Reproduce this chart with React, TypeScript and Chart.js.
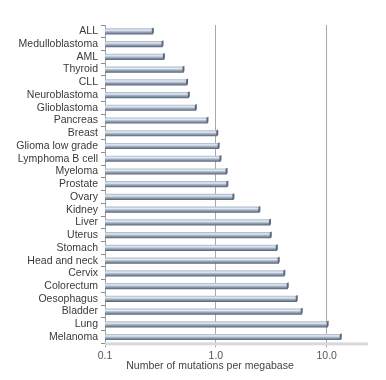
import { useEffect, useRef } from "react";
import { Chart, registerables } from "chart.js";
Chart.register(...registerables);

const categories = [
  "ALL", "Medulloblastoma", "AML", "Thyroid", "CLL", "Neuroblastoma", "Glioblastoma",
  "Pancreas", "Breast", "Glioma low grade", "Lymphoma B cell", "Myeloma", "Prostate",
  "Ovary", "Kidney", "Liver", "Uterus", "Stomach", "Head and neck", "Cervix",
  "Colorectum", "Oesophagus", "Bladder", "Lung", "Melanoma",
];
const mutationRates = [
  0.27, 0.33, 0.34, 0.51, 0.55, 0.57, 0.66, 0.84, 1.03, 1.06, 1.1, 1.25, 1.27,
  1.44, 2.47, 3.08, 3.13, 3.55, 3.69, 4.15, 4.45, 5.37, 5.95, 10.2, 13.4,
];
const xTickValues = [0.1, 1, 10];
const xTickLabels = ["0.1", "1.0", "10.0"];
const xAxisTitle = "Number of mutations per megabase";

const FONT = "'Liberation Sans', Arial, sans-serif";
const BAR_H = 5.5;

const barDecor = {
  id: "barDecor",
  beforeDatasetsDraw(chart: any) {
    const { ctx, chartArea } = chart;
    ctx.save();
    ctx.fillStyle = "#d9d9d9";
    ctx.fillRect(chartArea.left, chartArea.bottom - 1, chartArea.right - chartArea.left, 3);
    ctx.restore();
  },
  afterDatasetsDraw(chart: any) {
    const { ctx } = chart;
    const meta = chart.getDatasetMeta(0);
    ctx.save();
    meta.data.forEach((el: any) => {
      const x = el.x;
      const y = el.y;
      ctx.fillStyle = "#5d687a";
      ctx.beginPath();
      ctx.moveTo(x - 1, y - BAR_H / 2);
      ctx.lineTo(x + 1, y - BAR_H / 2 - 1);
      ctx.lineTo(x + 1, y + BAR_H / 2 - 1);
      ctx.lineTo(x - 1, y + BAR_H / 2);
      ctx.closePath();
      ctx.fill();
    });
    ctx.restore();
  },
  afterDraw(chart: any) {
    const { ctx } = chart;
    ctx.save();
    ctx.fillStyle = "#444";
    ctx.font = `10.5px ${FONT}`;
    ctx.textAlign = "center";
    ctx.textBaseline = "middle";
    ctx.fillText(xAxisTitle, 210, 366.5);
    ctx.restore();
  },
};

export default function App() {
  const ref = useRef<HTMLCanvasElement | null>(null);
  useEffect(() => {
    if (!ref.current) return;
    const chart = new Chart(ref.current, {
      type: "bar",
      data: {
        labels: categories,
        datasets: [
          {
            data: mutationRates,
            base: 0.1,
            barThickness: BAR_H,
            backgroundColor: (c: any) => {
              const ch = c.chart;
              const ys = ch.scales && ch.scales.y;
              if (!ys || c.dataIndex === undefined) return "#aab4c3";
              const yc = ys.getPixelForValue(c.dataIndex);
              if (!isFinite(yc)) return "#aab4c3";
              const g = ch.ctx.createLinearGradient(0, yc - BAR_H / 2, 0, yc + BAR_H / 2);
              g.addColorStop(0, "#b0bccc");
              g.addColorStop(0.3, "#e6ecf3");
              g.addColorStop(0.55, "#a9b6c8");
              g.addColorStop(1, "#5c6a80");
              return g;
            },
            borderWidth: 0,
          } as any,
        ],
      },
      options: {
        indexAxis: "y",
        responsive: false,
        animation: false,
        layout: { padding: { top: 25, right: 18, left: 0, bottom: 0 } },
        plugins: { legend: { display: false }, tooltip: { enabled: false } },
        scales: {
          x: {
            type: "logarithmic",
            min: 0.1,
            max: 23.6,
            afterBuildTicks: (s: any) => {
              s.ticks = xTickValues.map((v) => ({ value: v }));
            },
            afterFit: (s: any) => {
              s.height = 36.6;
            },
            ticks: {
              autoSkip: false,
              maxRotation: 0,
              padding: 2,
              color: "#555",
              font: { family: FONT, size: 10.5 },
              callback: (v: any) => {
                const i = xTickValues.indexOf(Number(v));
                return i >= 0 ? xTickLabels[i] : "";
              },
            },
            grid: { color: "#a8a8a8", lineWidth: 1, tickLength: 4 },
            border: { display: false },
            title: { display: false },
          },
          y: {
            type: "category",
            afterFit: (s: any) => {
              s.width = 105;
            },
            ticks: {
              autoSkip: false,
              padding: 3,
              color: "#3a3a3a",
              font: { family: FONT, size: 10.5 },
            },
            grid: {
              offset: true,
              drawOnChartArea: false,
              drawTicks: true,
              tickLength: 4,
              color: "#8a8a8a",
            },
            border: { display: true, color: "#a0a0a0" },
          },
        },
      },
      plugins: [barDecor],
    } as any);
    return () => chart.destroy();
  }, []);
  return (
    <div style={{ position: "absolute", left: 0, top: 0, width: 386, height: 380, background: "#fff" }}>
      <canvas ref={ref} width={386} height={380} />
    </div>
  );
}
